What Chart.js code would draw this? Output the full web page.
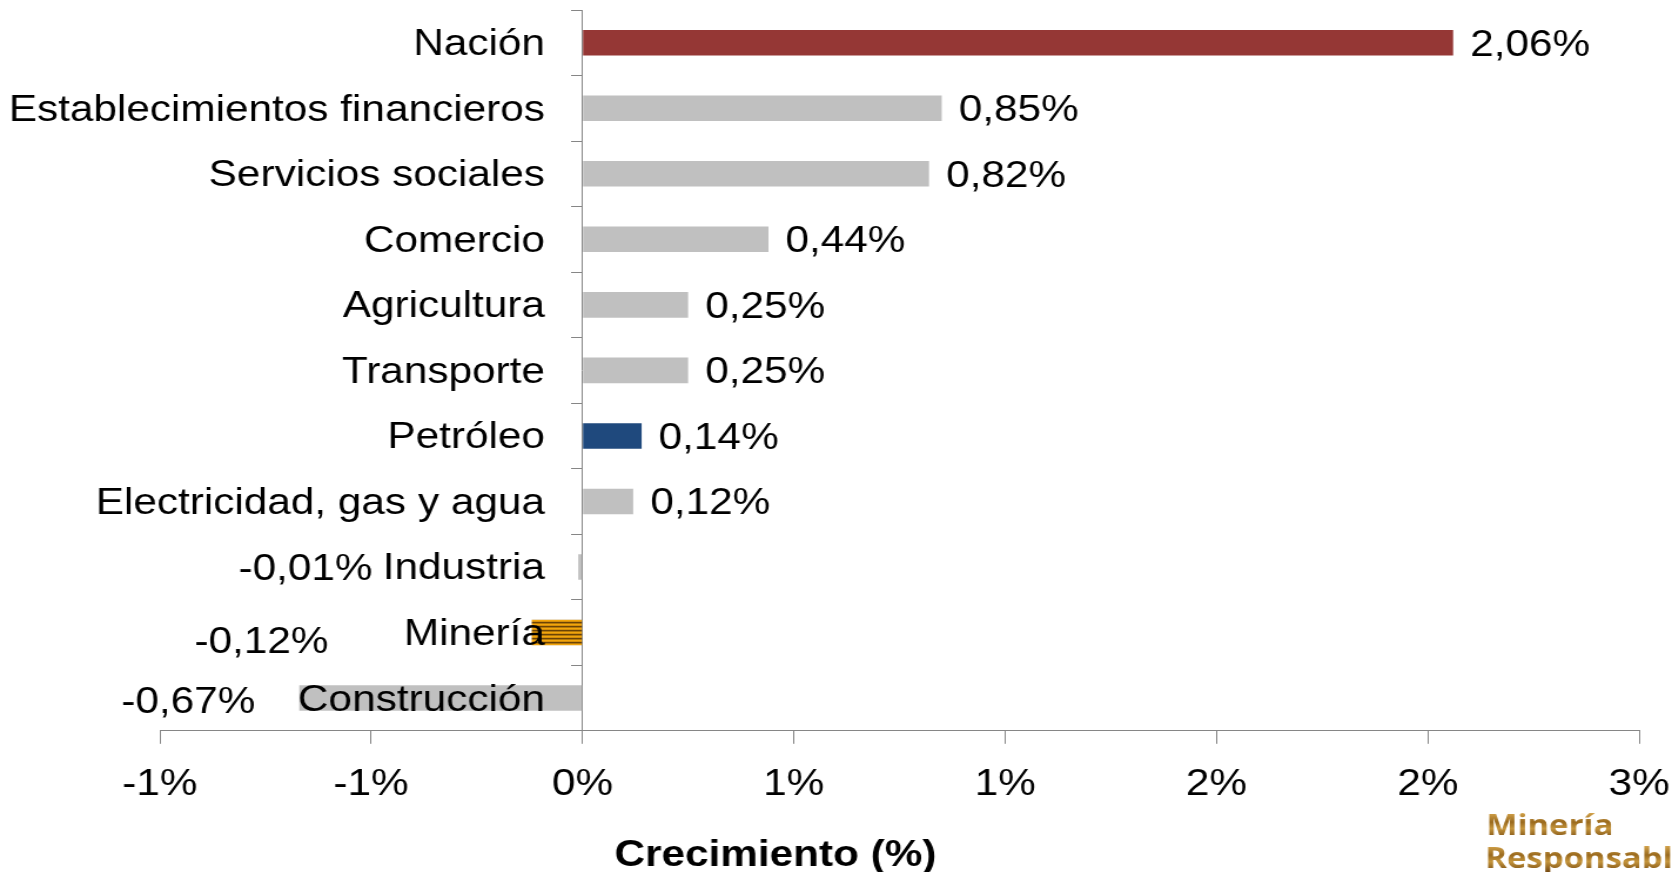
<!DOCTYPE html>
<html>
<head>
<meta charset="utf-8">
<script src="https://cdn.jsdelivr.net/npm/chart.js@4.4.1/dist/chart.umd.min.js"></script>
<style>
  html, body { margin: 0; padding: 0; background: #fff; overflow: hidden; }
  canvas { display: block; }
</style>
</head>
<body>
<!-- source picture is stretched sideways, so the canvas is drawn narrow and widened by css -->
<canvas id="growth-chart" width="1423" height="872" style="width:1672px;height:872px"></canvas>
<script>
// Crecimiento por sector (%)
const sectors = [
  'Nación',
  'Establecimientos financieros',
  'Servicios sociales',
  'Comercio',
  'Agricultura',
  'Transporte',
  'Petróleo',
  'Electricidad, gas y agua',
  'Industria',
  'Minería',
  'Construcción',
];
const growth = [2.06, 0.85, 0.82, 0.44, 0.25, 0.25, 0.14, 0.12, -0.01, -0.12, -0.67];
const xTickLabels = ['-1%', '-1%', '0%', '1%', '1%', '2%', '2%', '3%'];
const axisTitle = 'Crecimiento (%)';
const logoLines = ['Minería', 'Responsable'];

const FONT = '"Liberation Sans", Arial, sans-serif';
const AXIS_GREY = '#868686';

function stripePattern() {
  const c = document.createElement('canvas');
  c.width = 4;
  c.height = 4;
  const g = c.getContext('2d');
  const rows = ['#F2A50C', '#D58E0A', '#6B4306', '#B47808'];
  rows.forEach((col, i) => {
    g.fillStyle = col;
    g.fillRect(0, i, 4, 1);
  });
  return g.createPattern(c, 'repeat');
}

function barColor(name) {
  if (name === 'Nación') return '#953735';
  if (name === 'Petróleo') return '#1F497D';
  if (name === 'Minería') return stripePattern();
  return '#C0C0C0';
}

function formatPct(v) {
  return v.toFixed(2).replace('.', ',') + '%';
}

// category names sit just left of the zero line, on top of the bars
const sectorLabels = {
  id: 'sectorLabels',
  afterDatasetsDraw(chart) {
    const { ctx, scales: { x, y } } = chart;
    const right = x.getPixelForValue(0) - 32;
    ctx.save();
    ctx.font = `36px ${FONT}`;
    ctx.fillStyle = '#000';
    ctx.textAlign = 'right';
    ctx.textBaseline = 'alphabetic';
    sectors.forEach((s, i) => ctx.fillText(s, right, y.getPixelForTick(i) + 12.5));
    ctx.restore();
  },
};

// value labels; a couple of the negative ones were moved by hand in the original
const valueLabels = {
  id: 'valueLabels',
  afterDatasetsDraw(chart, _args, opts) {
    const { ctx } = chart;
    const bars = chart.getDatasetMeta(0).data;
    ctx.save();
    ctx.font = `36px ${FONT}`;
    ctx.fillStyle = '#000';
    ctx.textBaseline = 'alphabetic';
    bars.forEach((bar, i) => {
      const v = growth[i];
      const shift = opts.shift[sectors[i]] || {};
      const dy = shift.dy || 0;
      if (v >= 0) {
        ctx.textAlign = 'left';
        ctx.fillText(formatPct(v), bar.x + 14.5, bar.y + 13 + dy);
      } else {
        ctx.textAlign = 'right';
        const dx = shift.dx !== undefined ? shift.dx : 37.5;
        ctx.fillText(formatPct(v), bar.x - dx, bar.y + 13 + dy);
      }
    });
    ctx.restore();
  },
};

// axis title is off-centre in the original, so it is placed by hand
const xTitle = {
  id: 'xTitle',
  afterDraw(chart, _args, opts) {
    const { ctx } = chart;
    ctx.save();
    ctx.font = `bold 36px ${FONT}`;
    ctx.fillStyle = '#000';
    ctx.textAlign = 'center';
    ctx.textBaseline = 'alphabetic';
    ctx.fillText(axisTitle, opts.x, opts.y);
    ctx.restore();
  },
};

const logo = {
  id: 'logo',
  afterDraw(chart) {
    const { ctx } = chart;
    ctx.save();
    ctx.font = 'bold 28px "Open Sans", "Noto Sans", sans-serif';
    ctx.textAlign = 'left';
    ctx.textBaseline = 'alphabetic';
    const pos = [[1265, 835], [1264, 868]];
    logoLines.forEach((t, i) => {
      const [lx, ly] = pos[i];
      const grad = ctx.createLinearGradient(0, ly - 22, 0, ly + 4);
      grad.addColorStop(0, '#D2A24A');
      grad.addColorStop(0.35, '#9A6A1E');
      grad.addColorStop(0.6, '#C5953C');
      grad.addColorStop(1, '#74480F');
      ctx.fillStyle = grad;
      ctx.fillText(t, lx, ly);
    });
    ctx.restore();
  },
};

new Chart(document.getElementById('growth-chart'), {
  type: 'bar',
  data: {
    labels: sectors,
    datasets: [
      {
        data: growth,
        backgroundColor: sectors.map(barColor),
        borderWidth: 0,
        barPercentage: 0.39,
        categoryPercentage: 1,
      },
    ],
  },
  plugins: [sectorLabels, valueLabels, xTitle, logo],
  options: {
    indexAxis: 'y',
    responsive: false,
    animation: false,
    layout: { padding: { left: 136, right: 28, top: 10, bottom: 45 } },
    scales: {
      x: {
        type: 'linear',
        min: -1,
        max: 2.5,
        ticks: {
          stepSize: 0.5,
          autoSkip: false,
          maxRotation: 0,
          padding: 20,
          color: '#000',
          font: { family: FONT, size: 36 },
          callback(_value, index) {
            return xTickLabels[index];
          },
        },
        grid: {
          drawOnChartArea: false,
          tickLength: 13,
          color: AXIS_GREY,
        },
        border: { color: AXIS_GREY },
        afterFit(scale) {
          // edge labels may spill into the page margin
          scale.paddingLeft = 0;
          scale.paddingRight = 0;
        },
      },
      y: {
        type: 'category',
        position: { x: 0 },
        ticks: { display: false },
        grid: {
          drawOnChartArea: false,
          offset: true,
          tickLength: 9,
          color: AXIS_GREY,
        },
        border: { color: AXIS_GREY },
        afterFit(scale) {
          scale.paddingTop = 0;
          scale.paddingBottom = 0;
        },
      },
    },
    plugins: {
      legend: { display: false },
      tooltip: { enabled: false },
      valueLabels: {
        shift: {
          Industria: { dx: 175 },
          'Minería': { dx: 173, dy: 7 },
          'Construcción': { dx: 37.5, dy: 2 },
        },
      },
      xTitle: { x: 660, y: 866 },
    },
  },
});
</script>
</body>
</html>
